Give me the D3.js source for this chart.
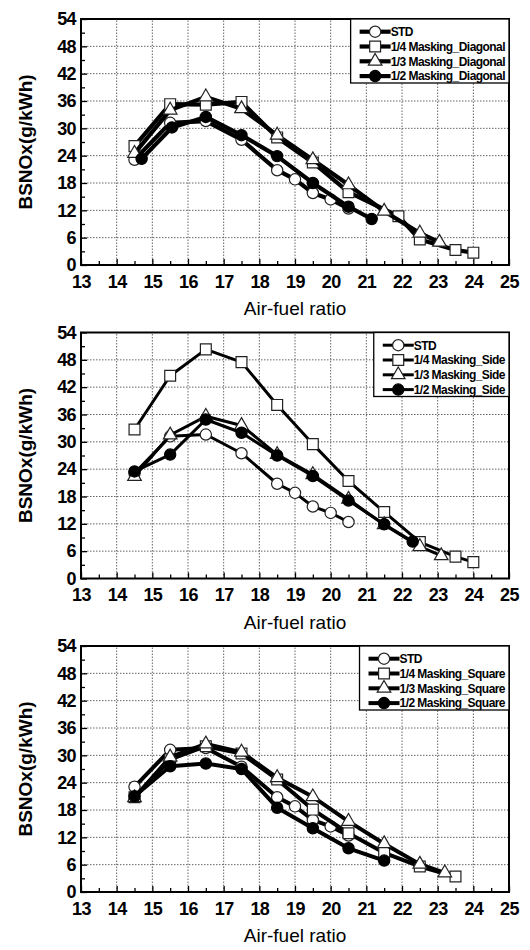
<!DOCTYPE html>
<html>
<head>
<meta charset="utf-8">
<script src="https://cdn.jsdelivr.net/npm/d3@7"></script>
<style>
body { margin: 0; background: #fff; }
</style>
</head>
<body>
<div id="chart"></div>
<script>
// axis ticks
var xTicks = d3.range(13, 26);
var xMinor = d3.range(13.5, 25, 1);
var yTicks = d3.range(0, 55, 6);
var yMinor = d3.range(3, 54, 6);

// series values [air-fuel ratio, BSNOx]
var std = [[14.5,23.1],[15.5,31.2],[16.5,31.6],[17.5,27.5],[18.5,20.8],[19,18.8],[19.5,15.8],[20,14.4],[20.5,12.4]];

var diag14 = [[14.5,26.1],[15.5,35.3],[16.5,35.2],[17.5,35.8],[18.5,28],[19.5,22.5],[20.5,16],[21.9,10.7],[22.5,5.6],[23.5,3.3],[24,2.7]];
var diag13 = [[14.5,24.5],[15.5,34],[16.5,36.9],[17.5,34.3],[18.5,28.5],[19.5,23.1],[20.5,17.6],[21.5,11.8],[22.5,7],[23.05,5]];
var diag12 = [[14.7,23.3],[15.55,30.2],[16.5,32.5],[17.5,28.5],[18.5,23.9],[19.5,18],[20.5,12.8],[21.15,10.1]];

var side14 = [[14.5,32.7],[15.5,44.5],[16.5,50.3],[17.5,47.5],[18.5,38.1],[19.5,29.5],[20.5,21.4],[21.5,14.6],[22.5,8],[23.5,4.8],[24,3.6]];
var side13 = [[14.5,22.4],[15.5,31.5],[16.5,35.6],[17.5,33.6],[18.5,27.2],[19.5,22.8],[20.5,17.4],[21.5,11.8],[22.5,7],[23.1,5]];
var side12 = [[14.5,23.5],[15.5,27.2],[16.5,34.9],[17.5,32],[18.5,27],[19.5,22.5],[20.5,17.1],[21.5,11.9],[22.3,8.1]];

var square14 = [[14.5,20.8],[15.5,29.1],[16.5,32],[17.5,30.4],[18.5,24.7],[19.5,18.1],[20.5,12.9],[21.5,8.6],[22.5,5.6],[23.5,3.4]];
var square13 = [[14.5,20.7],[15.5,29.6],[16.5,32.5],[17.5,30.7],[18.5,25.1],[19.5,20.9],[20.5,15.5],[21.5,10.6],[22.5,6.1],[23.2,4.2]];
var square12 = [[14.5,21],[15.5,27.6],[16.5,28.2],[17.5,27],[18.5,18.5],[19.5,14],[20.5,9.6],[21.5,6.9]];

var seriesNames = ["STD", "1/4 Masking_", "1/3 Masking_", "1/2 Masking_"];
var markers = ["circle", "square", "triangle", "dot"];

var panels = [
    {suffix: "Diagonal", series: [std, diag14, diag13, diag12], lineWidth: 4.2},
    {suffix: "Side", series: [std, side14, side13, side12], lineWidth: 3},
    {suffix: "Square", series: [std, square14, square13, square12], lineWidth: 4}
];

var width = 530, height = 950;
var left = 81, right = 509, top0 = 19, bottom0 = 265, panelStep = 313.5;
var font = "'Liberation Sans', Arial, sans-serif";

var svg = d3.select("#chart").append("svg")
    .attr("width", width).attr("height", height)
    .style("background", "#fff");

var x = d3.scaleLinear().domain([13, 25]).range([left, right]);

function markerPath(type) {
    if (type == "square") return d3.symbol().type(d3.symbolSquare).size(118)();
    if (type == "triangle") return d3.symbol().type(d3.symbolTriangle).size(80)();
    return d3.symbol().type(d3.symbolCircle).size(100)();
}

function drawMarker(g, type, px, py) {
    g.append("path")
        .attr("d", markerPath(type))
        .attr("transform", "translate(" + px + "," + py + ")")
        .attr("fill", type == "dot" ? "#000" : "#fff")
        .attr("stroke", type == "dot" ? "#000" : "#222")
        .attr("stroke-width", 1.2);
}

panels.forEach(function(p, i) {
    var off = i * panelStep;
    var y = d3.scaleLinear().domain([0, 54]).range([bottom0 + off, top0 + off]);
    var g = svg.append("g").attr("class", "panel");

    // grid
    g.append("g").selectAll("line").data(xTicks.slice(1, -1)).enter().append("line")
        .attr("x1", function(d) { return x(d); }).attr("x2", function(d) { return x(d); })
        .attr("y1", y(0)).attr("y2", y(54))
        .attr("stroke", "#666").attr("stroke-width", 1).attr("stroke-dasharray", "1.5,1.5");
    g.append("g").selectAll("line").data(yTicks.slice(1, -1)).enter().append("line")
        .attr("x1", x(13)).attr("x2", x(25))
        .attr("y1", function(d) { return y(d); }).attr("y2", function(d) { return y(d); })
        .attr("stroke", "#666").attr("stroke-width", 1).attr("stroke-dasharray", "1.5,1.5");

    // axes
    g.append("g").attr("transform", "translate(0," + y(0) + ")")
        .call(d3.axisBottom(x).tickValues(xTicks).tickSize(-6).tickPadding(10).tickFormat(d3.format("d")));
    g.append("g").attr("transform", "translate(0," + y(0) + ")")
        .call(d3.axisBottom(x).tickValues(xMinor).tickSize(-4).tickFormat(""));
    g.append("g").attr("transform", "translate(" + left + ",0)")
        .call(d3.axisLeft(y).tickValues(yTicks).tickSize(-6).tickPadding(5).tickFormat(d3.format("d")));
    g.append("g").attr("transform", "translate(" + left + ",0)")
        .call(d3.axisLeft(y).tickValues(yMinor).tickSize(-4).tickFormat(""));
    g.selectAll(".domain").remove();
    g.selectAll(".tick line").attr("stroke", "#000").attr("stroke-width", 1.3);
    g.selectAll(".tick text")
        .attr("fill", "#000")
        .style("font-family", font)
        .style("font-weight", "bold")
        .style("font-size", "18px")
        .style("letter-spacing", "-0.6px");

    // frame
    g.append("rect")
        .attr("x", left).attr("y", y(54))
        .attr("width", right - left).attr("height", y(0) - y(54))
        .attr("fill", "none").attr("stroke", "#000").attr("stroke-width", 2);

    // titles
    g.append("text")
        .attr("transform", "translate(25," + (y(27)) + ") rotate(-90)")
        .attr("text-anchor", "middle").attr("dy", "0.36em")
        .style("font-family", font)
        .style("font-weight", "bold").style("font-size", "19px")
        .text("BSNOx(g/kWh)");
    g.append("text")
        .attr("x", (left + right) / 2).attr("y", y(0) + 50)
        .attr("text-anchor", "middle")
        .style("font-family", font)
        .style("font-size", "19px")
        .text("Air-fuel ratio");

    // series
    var line = d3.line().x(function(d) { return x(d[0]); }).y(function(d) { return y(d[1]); });
    p.series.forEach(function(s, k) {
        var sg = g.append("g");
        sg.append("path").datum(s).attr("d", line)
            .attr("fill", "none").attr("stroke", "#000")
            .attr("stroke-width", p.lineWidth).attr("stroke-linejoin", "round");
        s.forEach(function(d) {
            drawMarker(sg, markers[k], x(d[0]), y(d[1]));
        });
    });

    // legend
    var lg = g.append("g");
    var box = lg.append("rect").attr("fill", "#fff").attr("stroke", "#000").attr("stroke-width", 1.3);
    var rowY = function(k) { return y(54) + 12.7 + k * 14.8; };
    var texts = seriesNames.map(function(n, k) {
        return lg.append("text")
            .attr("y", rowY(k)).attr("dy", "0.36em")
            .style("font-family", font)
            .style("font-weight", "bold").style("font-size", "12px")
            .style("letter-spacing", "-0.55px")
            .text(k == 0 ? n : n + p.suffix);
    });
    var tw = d3.max(texts, function(t) { return t.node().getComputedTextLength(); });
    var textX = right - 4 - tw;
    var boxX = textX - 31 - 9;
    box.attr("x", boxX).attr("y", y(54)).attr("width", right - boxX).attr("height", 64);
    texts.forEach(function(t) { t.attr("x", textX); });
    markers.forEach(function(m, k) {
        lg.append("line")
            .attr("x1", textX - 31).attr("x2", textX)
            .attr("y1", rowY(k)).attr("y2", rowY(k))
            .attr("stroke", "#000").attr("stroke-width", p.lineWidth);
        drawMarker(lg, m, textX - 15.5, rowY(k));
    });
});
</script>
</body>
</html>
